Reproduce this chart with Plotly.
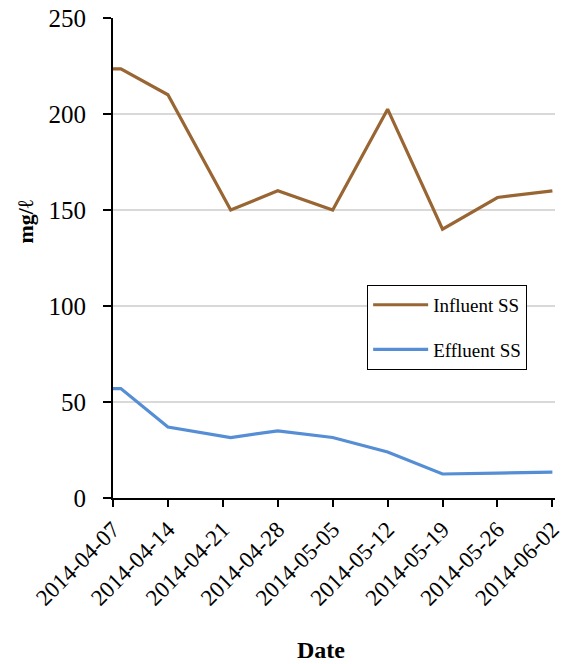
import plotly.graph_objects as go

# Sampling dates and suspended-solids concentrations (mg/ℓ)
dates = ["2014-04-07", "2014-04-08", "2014-04-14", "2014-04-22", "2014-04-28",
         "2014-05-05", "2014-05-12", "2014-05-19", "2014-05-26", "2014-06-02"]
influent_ss = [223.5, 223.5, 210, 150, 160, 150, 202.5, 140, 156.5, 160]
effluent_ss = [57, 57, 37, 31.5, 35, 31.5, 24, 12.5, 13, 13.5]

# Weekly tick marks on the date axis
tick_dates = ["2014-04-07", "2014-04-14", "2014-04-21", "2014-04-28", "2014-05-05",
              "2014-05-12", "2014-05-19", "2014-05-26", "2014-06-02"]
y_ticks = [0, 50, 100, 150, 200, 250]

FONT = "Times New Roman"

fig = go.Figure()
fig.add_trace(go.Scatter(x=dates, y=influent_ss, mode="lines", name="Influent SS",
                         legendgroup="inf",
                         line=dict(color="#996633", width=3.2)))
fig.add_trace(go.Scatter(x=dates, y=effluent_ss, mode="lines", name="Effluent SS",
                         legendgroup="eff",
                         line=dict(color="#558ed5", width=3.2)))

fig.update_layout(
    width=563, height=664,
    margin=dict(l=113, r=8, t=18, b=166, autoexpand=False),
    paper_bgcolor="white", plot_bgcolor="white",
    font=dict(family=FONT, color="black", size=22),
    showlegend=True,
    legend=dict(
        x=0.575, y=0.444, xanchor="left", yanchor="top",
        bordercolor="black", borderwidth=1, bgcolor="white",
        font=dict(family=FONT, size=19, color="black"),
        itemwidth=55, tracegroupgap=17,
    ),
    xaxis=dict(
        type="date",
        range=["2014-04-07", "2014-06-02 08:00"],
        tickvals=tick_dates, ticktext=tick_dates,
        tickangle=-45, automargin=False, ticklabeloverflow="allow",
        showgrid=False, zeroline=False,
        showline=True, linecolor="black", linewidth=2,
        ticks="outside", ticklen=7, tickwidth=2, tickcolor="black",
        tickfont=dict(family=FONT, size=23, color="black"),
    ),
    yaxis=dict(
        range=[0, 250], tickvals=y_ticks, automargin=False,
        showgrid=True, gridcolor="#d9d9d9", gridwidth=1.5,
        zeroline=False,
        showline=True, linecolor="black", linewidth=2,
        ticks="outside", ticklen=8, tickwidth=2, tickcolor="black",
        ticklabelstandoff=12,
        tickfont=dict(family=FONT, size=25, color="black"),
    ),
    annotations=[
        dict(text="<b>Date</b>", xref="paper", yref="paper", x=0.47, y=-0.317,
             xanchor="center", yanchor="middle", showarrow=False,
             font=dict(family=FONT, size=24, color="black")),
        dict(text="<b>mg/ℓ</b>", xref="paper", yref="paper", x=-0.20, y=0.575,
             xanchor="center", yanchor="middle", showarrow=False, textangle=-90,
             font=dict(family=FONT, size=22, color="black")),
    ],
)

fig.write_html("out.html")
